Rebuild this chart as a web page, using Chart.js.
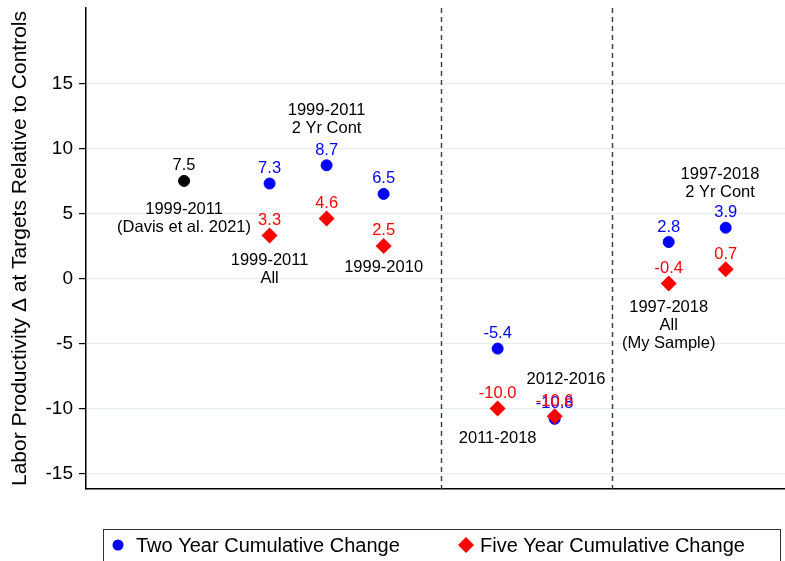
<!DOCTYPE html>
<html>
<head>
<meta charset="utf-8">
<script src="https://cdn.jsdelivr.net/npm/chart.js@4/dist/chart.umd.min.js"></script>
<style>
  html, body { margin: 0; padding: 0; background: #fff; }
  canvas { display: block; }
</style>
</head>
<body>
<canvas id="chart" width="785" height="561"></canvas>
<script>
// data
const davisX = [1];
const davisVals = [7.5];
const specX = [2.5, 3.5, 4.5, 6.5, 7.5, 9.5, 10.5];
const twoYear = [7.3, 8.7, 6.5, -5.4, -10.8, 2.8, 3.9];
const fiveYear = [3.3, 4.6, 2.5, -10.0, -10.6, -0.4, 0.7];
const yTicks = [-15, -10, -5, 0, 5, 10, 15];
const dividers = [5.5, 8.5];

// sample labels: x, y (in data units, centre of first line), lines
const groupLabels = [
    { x: 1, y: 5.3, lines: ['1999-2011', '(Davis et al. 2021)'] },
    { x: 2.5, y: 1.35, lines: ['1999-2011', 'All'] },
    { x: 3.5, y: 12.95, lines: ['1999-2011', '2 Yr Cont'] },
    { x: 4.5, y: 0.85, lines: ['1999-2010'] },
    { x: 6.5, y: -12.3, lines: ['2011-2018'] },
    { x: 7.7, y: -7.77, lines: ['2012-2016'] },
    { x: 9.5, y: -2.2, lines: ['1997-2018', 'All', '(My Sample)'] },
    { x: 10.4, y: 8.0, lines: ['1997-2018', '2 Yr Cont'] }
];

const FONT = '"Liberation Sans", Arial, Helvetica, sans-serif';

function toPoints(xs, ys) {
    return xs.map(function(x, i) { return { x: x, y: ys[i] }; });
}

const overlay = {
    id: 'overlay',
    beforeDatasetsDraw(chart) {
        const ctx = chart.ctx;
        const xs = chart.scales.x;
        const area = chart.chartArea;
        ctx.save();
        ctx.strokeStyle = '#444';
        ctx.lineWidth = 1.5;
        ctx.setLineDash([5, 4]);
        dividers.forEach(function(d) {
            const px = Math.round(xs.getPixelForValue(d)) + 0.5;
            ctx.beginPath();
            ctx.moveTo(px, area.top);
            ctx.lineTo(px, area.bottom);
            ctx.stroke();
        });
        ctx.restore();
    },
    afterDatasetsDraw(chart) {
        const ctx = chart.ctx;
        const xs = chart.scales.x;
        const ys = chart.scales.y;
        ctx.save();
        ctx.font = '16.5px ' + FONT;
        ctx.textAlign = 'center';
        ctx.textBaseline = 'middle';

        // value labels, drawn in the same order as the points
        [2, 0, 1].forEach(function(di) {
            const ds = chart.data.datasets[di];
            ctx.fillStyle = ds.labelColor;
            ds.data.forEach(function(p) {
                const px = xs.getPixelForValue(p.x);
                const py = ys.getPixelForValue(p.y);
                ctx.fillText(p.y.toFixed(1), px, py - 15);
            });
        });

        // sample labels
        ctx.fillStyle = '#000';
        groupLabels.forEach(function(g) {
            const px = xs.getPixelForValue(g.x);
            const py = ys.getPixelForValue(g.y);
            g.lines.forEach(function(line, i) {
                ctx.fillText(line, px, py + i * 18);
            });
        });
        ctx.restore();
    },
    afterDraw(chart) {
        // legend box
        const ctx = chart.ctx;
        ctx.save();
        ctx.strokeStyle = '#333';
        ctx.lineWidth = 1;
        ctx.strokeRect(103.5, 529.5, 677, 40);

        ctx.fillStyle = '#0000ff';
        ctx.beginPath();
        ctx.arc(118, 545, 5.5, 0, Math.PI * 2);
        ctx.fill();

        ctx.fillStyle = '#ff0000';
        ctx.beginPath();
        ctx.moveTo(466, 537);
        ctx.lineTo(474, 545);
        ctx.lineTo(466, 553);
        ctx.lineTo(458, 545);
        ctx.closePath();
        ctx.fill();

        ctx.fillStyle = '#000';
        ctx.font = '20px ' + FONT;
        ctx.textAlign = 'left';
        ctx.textBaseline = 'middle';
        ctx.fillText(chart.data.datasets[0].label, 136, 546);
        ctx.fillText(chart.data.datasets[1].label, 480, 546);
        ctx.restore();
    }
};

new Chart(document.getElementById('chart'), {
    type: 'scatter',
    data: {
        datasets: [
            {
                label: 'Two Year Cumulative Change',
                data: toPoints(specX, twoYear),
                backgroundColor: '#0000ff',
                borderColor: '#0000ff',
                labelColor: '#0000ff',
                pointStyle: 'circle',
                pointRadius: 5.5,
                borderWidth: 1,
                order: 2
            },
            {
                label: 'Five Year Cumulative Change',
                data: toPoints(specX, fiveYear),
                backgroundColor: '#ff0000',
                borderColor: '#ff0000',
                labelColor: '#ff0000',
                pointStyle: 'rectRot',
                pointRadius: 8,
                borderWidth: 0,
                order: 1
            },
            {
                label: 'Davis et al. 2021',
                data: toPoints(davisX, davisVals),
                backgroundColor: '#000',
                borderColor: '#000',
                labelColor: '#000',
                pointStyle: 'circle',
                pointRadius: 5.5,
                borderWidth: 1,
                order: 3
            }
        ]
    },
    options: {
        responsive: false,
        animation: false,
        layout: { autoPadding: false, padding: { top: 8, right: 0, bottom: 0, left: 0 } },
        plugins: {
            legend: { display: false },
            tooltip: { enabled: false }
        },
        scales: {
            x: {
                type: 'linear',
                min: -0.72,
                max: 11.54,
                ticks: { display: false },
                grid: { display: false },
                border: { color: '#000', width: 1.5 },
                afterFit: function(s) {
                    s.height = 72;
                    s.paddingLeft = 0;
                    s.paddingRight = 0;
                }
            },
            y: {
                min: -16.2,
                max: 20.8,
                afterBuildTicks: function(s) {
                    s.ticks = yTicks.map(function(v) { return { value: v }; });
                },
                ticks: {
                    color: '#000',
                    font: { family: FONT, size: 19 },
                    padding: 6
                },
                grid: {
                    color: '#e6eef2',
                    tickColor: '#000',
                    tickLength: 7,
                    lineWidth: 1.2
                },
                border: { color: '#000', width: 1.5 },
                title: {
                    display: true,
                    text: 'Labor Productivity \u0394 at Targets Relative to Controls',
                    color: '#000',
                    font: { family: FONT, size: 21 },
                    padding: { top: 8, bottom: 0 }
                },
                afterFit: function(s) {
                    s.width = 86;
                    s.paddingTop = 0;
                    s.paddingBottom = 0;
                }
            }
        }
    },
    plugins: [overlay]
});
</script>
</body>
</html>
